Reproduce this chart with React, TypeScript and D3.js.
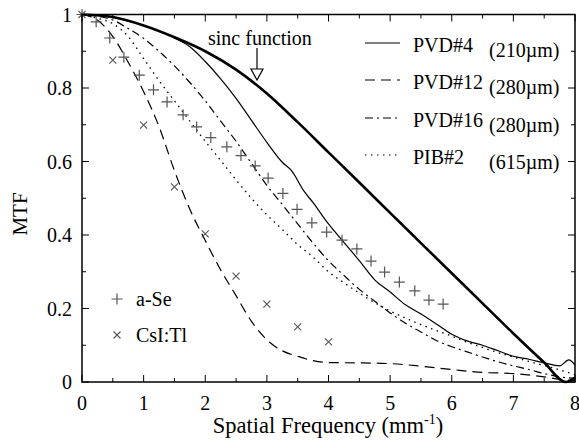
import * as d3 from "d3";

// sinc function (thick line)
const sincFreq = [0, 0.5, 1, 1.5, 2, 2.5, 3, 3.5, 4, 4.5, 5, 5.5, 6, 6.5, 7, 7.5, 7.85, 8];
const sincMtf = [1, 0.993, 0.97, 0.938, 0.9, 0.85, 0.785, 0.707, 0.625, 0.543, 0.46, 0.378, 0.296, 0.214, 0.132, 0.053, 0, 0.012];

// PVD#4 (210um) thin solid
const pvd4Freq = [0, 0.5, 1, 1.5, 1.75, 2, 2.25, 2.5, 2.75, 3, 3.25, 3.4, 3.6, 3.75, 4, 4.25, 4.5, 4.75, 5, 5.25, 5.5, 5.75, 6, 6.25, 6.5, 6.75, 7, 7.25, 7.5, 7.75, 7.9, 8];
const pvd4Mtf = [1, 0.992, 0.97, 0.936, 0.912, 0.872, 0.825, 0.772, 0.712, 0.652, 0.598, 0.575, 0.52, 0.488, 0.43, 0.38, 0.33, 0.278, 0.245, 0.21, 0.185, 0.158, 0.13, 0.112, 0.1, 0.085, 0.07, 0.062, 0.052, 0.044, 0.06, 0.046];

// PVD#12 (280um) long dash
const pvd12Freq = [0, 0.25, 0.5, 0.75, 1, 1.25, 1.5, 1.75, 2, 2.25, 2.5, 2.75, 3, 3.25, 3.5, 3.75, 4, 4.5, 5, 5.5, 6, 6.5, 7, 7.5, 7.8, 8];
const pvd12Mtf = [1, 0.985, 0.94, 0.87, 0.79, 0.695, 0.575, 0.47, 0.385, 0.305, 0.235, 0.165, 0.115, 0.085, 0.07, 0.058, 0.053, 0.052, 0.05, 0.043, 0.034, 0.026, 0.023, 0.014, 0.006, 0.004];

// PVD#16 (280um) dash-dot and PIB#2 (615um) dotted share a grid
const gridFreq = [0, 0.25, 0.5, 0.75, 1, 1.25, 1.5, 1.75, 2, 2.25, 2.5, 2.75, 3, 3.25, 3.5, 3.75, 4, 4.25, 4.5, 4.75, 5, 5.25, 5.5, 5.75, 6, 6.25, 6.5, 6.75, 7, 7.25, 7.5, 7.75, 8];
const pvd16Mtf = [1, 0.995, 0.985, 0.962, 0.935, 0.9, 0.86, 0.815, 0.765, 0.71, 0.655, 0.595, 0.535, 0.483, 0.43, 0.378, 0.33, 0.29, 0.252, 0.22, 0.188, 0.16, 0.136, 0.113, 0.096, 0.082, 0.068, 0.055, 0.044, 0.034, 0.023, 0.014, 0.01];
const pib2Mtf = [1, 0.99, 0.975, 0.94, 0.88, 0.82, 0.765, 0.71, 0.655, 0.603, 0.55, 0.5, 0.455, 0.415, 0.374, 0.34, 0.3, 0.27, 0.242, 0.216, 0.193, 0.174, 0.156, 0.14, 0.125, 0.108, 0.094, 0.08, 0.068, 0.056, 0.045, 0.033, 0.02];

// measured points
const aSeFreq = [0, 0.23, 0.45, 0.68, 0.93, 1.16, 1.38, 1.64, 1.86, 2.09, 2.35, 2.58, 2.81, 3.02, 3.26, 3.49, 3.73, 3.97, 4.22, 4.46, 4.69, 4.91, 5.15, 5.4, 5.63, 5.86];
const aSeMtf = [1, 0.98, 0.936, 0.884, 0.835, 0.795, 0.762, 0.727, 0.694, 0.665, 0.64, 0.616, 0.588, 0.555, 0.513, 0.47, 0.433, 0.408, 0.386, 0.362, 0.329, 0.299, 0.272, 0.248, 0.223, 0.212];
const csiFreq = [0, 0.5, 1, 1.5, 2, 2.5, 3, 3.5, 4];
const csiMtf = [1, 0.876, 0.699, 0.531, 0.403, 0.288, 0.212, 0.15, 0.109];

const xTicks = [0, 1, 2, 3, 4, 5, 6, 7, 8];
const yTicks = [0, 0.2, 0.4, 0.6, 0.8, 1];

const legendNames = ["PVD#4", "PVD#12", "PVD#16", "PIB#2"];
const legendThick = ["(210\u00b5m)", "(280\u00b5m)", "(280\u00b5m)", "(615\u00b5m)"];

const FONT = "'Liberation Serif', 'DejaVu Serif', serif";

export default function App() {
  const x = d3.scaleLinear().domain([0, 8]).range([82, 575]);
  const y = d3.scaleLinear().domain([0, 1]).range([382, 14.5]);

  const line = d3
    .line<[number, number]>()
    .x((d) => x(d[0]))
    .y((d) => y(d[1]))
    .curve(d3.curveMonotoneX);
  const zip = (f: number[], v: number[]) => f.map((d, i) => [d, v[i]] as [number, number]);

  const series = [
    { pts: zip(pvd4Freq, pvd4Mtf), dash: "none", w: 1.2 },
    { pts: zip(pvd12Freq, pvd12Mtf), dash: "10,6", w: 1.2 },
    { pts: zip(gridFreq, pvd16Mtf), dash: "8,4,2,4", w: 1.2 },
    { pts: zip(gridFreq, pib2Mtf), dash: "1.5,4.5", w: 1.3 },
  ];

  const minorX = d3.range(0, 8.01, 0.5);
  const minorY = d3.range(0, 1.001, 0.1);
  const legendRows = [43, 80, 118, 155];
  const gray = "#555";

  return (
    <svg width={579} height={441} style={{ position: "absolute", left: 0, top: 0, background: "#fff" }}>
      <rect width={579} height={441} fill="#fff" />
      {/* ticks */}
      <g stroke="#000" strokeWidth={1}>
        {minorX.map((t) => {
          const len = Number.isInteger(t) ? 7 : 4;
          return (
            <g key={"x" + t}>
              <line x1={x(t)} x2={x(t)} y1={y(0)} y2={y(0) - len} />
              <line x1={x(t)} x2={x(t)} y1={y(1)} y2={y(1) + len} />
            </g>
          );
        })}
        {minorY.map((t, i) => {
          const len = i % 2 === 0 ? 7 : 4;
          return (
            <g key={"y" + i}>
              <line x1={x(0)} x2={x(0) + len} y1={y(t)} y2={y(t)} />
              <line x1={x(8)} x2={x(8) - len} y1={y(t)} y2={y(t)} />
            </g>
          );
        })}
      </g>
      {/* curves */}
      {series.map((s, i) => (
        <path key={i} d={line(s.pts) ?? ""} fill="none" stroke="#000" strokeWidth={s.w} strokeDasharray={s.dash} />
      ))}
      <path d={line(zip(sincFreq, sincMtf)) ?? ""} fill="none" stroke="#000" strokeWidth={2.6} />
      {/* measured points */}
      {zip(aSeFreq, aSeMtf).map((d, i) => (
        <path key={"p" + i} d={`M${x(d[0]) - 5.5},${y(d[1])}h11M${x(d[0])},${y(d[1]) - 5.5}v11`} stroke={gray} strokeWidth={1.2} />
      ))}
      {zip(csiFreq, csiMtf).map((d, i) => (
        <path key={"c" + i} d={`M${x(d[0]) - 3.5},${y(d[1]) - 3.5}l7,7M${x(d[0]) - 3.5},${y(d[1]) + 3.5}l7,-7`} stroke={gray} strokeWidth={1.1} />
      ))}
      {/* frame */}
      <rect x={x(0)} y={y(1)} width={x(8) - x(0)} height={y(0) - y(1)} fill="none" stroke="#000" strokeWidth={1.5} />
      <g style={{ fontFamily: FONT }} fill="#000">
        {/* tick labels */}
        <g fontSize={20}>
          {xTicks.map((t) => (
            <text key={"xl" + t} x={x(t)} y={410} textAnchor="middle">{t}</text>
          ))}
          {yTicks.map((t) => (
            <text key={"yl" + t} x={72} y={y(t) + 7} textAnchor="end">{t}</text>
          ))}
        </g>
        {/* axis titles */}
        <text x={328} y={433} textAnchor="middle" fontSize={22.5}>
          Spatial Frequency (mm<tspan fontSize={14} dy={-9}>-1</tspan><tspan dy={9}>)</tspan>
        </text>
        <text transform="translate(27,214) rotate(-90)" textAnchor="middle" fontSize={21}>MTF</text>
        {/* sinc annotation */}
        <text x={208} y={45} fontSize={20}>sinc function</text>
        {/* legend text */}
        {legendRows.map((ry, i) => (
          <g key={"lt" + i} fontSize={20}>
            <text x={413} y={ry + 9}>{legendNames[i]}</text>
            <text x={489} y={ry + 14}>{legendThick[i]}</text>
          </g>
        ))}
        <text x={136} y={306} fontSize={20}>a-Se</text>
        <text x={136} y={342} fontSize={20}>CsI:Tl</text>
      </g>
      <line x1={257} x2={257} y1={48} y2={70} stroke="#000" strokeWidth={1.2} />
      <path d="M251,69L263,69L257,80Z" fill="#fff" stroke="#000" strokeWidth={1.2} />
      {/* legend samples */}
      {legendRows.map((ry, i) => (
        <line key={"ls" + i} x1={365} x2={400} y1={ry} y2={ry} stroke="#000" strokeWidth={1.2} strokeDasharray={series[i].dash} />
      ))}
      <path d="M111.5,299h11M117,293.5v11" stroke={gray} strokeWidth={1.2} />
      <path d="M113.5,331.5l7,7M113.5,338.5l7,-7" stroke={gray} strokeWidth={1.1} />
    </svg>
  );
}
